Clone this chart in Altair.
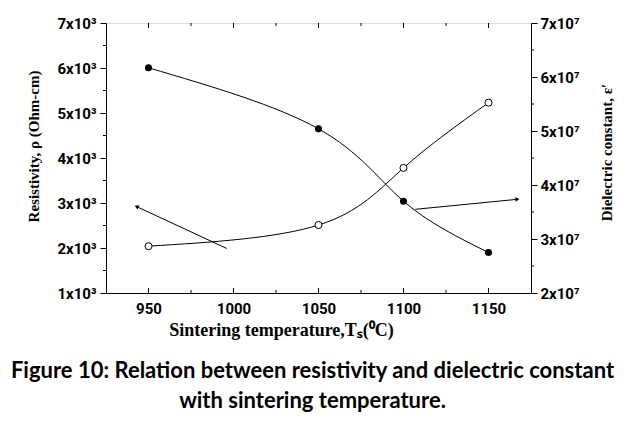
import altair as alt
import pandas as pd

# --- data ---
temps = [950, 1050, 1100, 1150]
resistivity = [2040, 2510, 3780, 5230]          # open circles, left axis
dielectric = [6.17e7, 5.04e7, 3.70e7, 2.75e7]   # filled circles, right axis

arrow_left_x = [996, 943]
arrow_left_y = [1990, 2920]
arrow_right_x = [1107, 1167]
arrow_right_y = [3.55e7, 3.735e7]

x_major = [950, 1000, 1050, 1100, 1150]
x_minor = [975, 1025, 1075, 1125]
left_major = [1000, 2000, 3000, 4000, 5000, 6000, 7000]
left_minor = [1500, 2500, 3500, 4500, 5500, 6500]
right_major = [2e7, 3e7, 4e7, 5e7, 6e7, 7e7]
right_minor = [2.5e7, 3.5e7, 4.5e7, 5.5e7, 6.5e7]

W, H = 425, 270

df = pd.DataFrame({"T": temps, "rho": resistivity, "eps": dielectric})
al = pd.DataFrame({"T": arrow_left_x, "rho": arrow_left_y, "o": [0, 1]})
ar = pd.DataFrame({"T": arrow_right_x, "eps": arrow_right_y, "o": [0, 1]})
alh = al.iloc[[1]]
arh = ar.iloc[[1]]

LBL = dict(labelFont="Roboto", labelFontWeight="bold", labelFontSize=15,
           labelColor="black", domainColor="black", grid=False,
           titleFont="Liberation Serif", titleFontWeight="bold", titleColor="black")

xscale = alt.Scale(domain=[925, 1175], nice=False, zero=False)
xaxis = alt.Axis(values=x_major, format="d", title="Sintering temperature,Tₛ(⁰C)",
                 tickSize=0, labelPadding=8, titlePadding=5, titleX=175,
                 titleFontSize=18, **LBL)

lscale = alt.Scale(domain=[1000, 7000], nice=False, zero=False)
rscale = alt.Scale(domain=[2e7, 7e7], nice=False, zero=False)

laxis = alt.Axis(orient="left", values=left_major, labelExpr="(datum.value/1000) + 'x10³'",
                 title="Resistivity, ρ (Ohm-cm)", tickSize=6, tickColor="black",
                 labelPadding=4, titleFontSize=15, titleAngle=270,
                 titleX=-73, titleY=123, titleAlign="center", titleBaseline="middle", **LBL)
raxis = alt.Axis(orient="right", values=right_major, labelExpr="(datum.value/1e7) + 'x10⁷'",
                 title="Dielectric constant, ε′", tickSize=6, tickColor="black",
                 labelPadding=3, titleFontSize=15, titleAngle=270,
                 titleX=75, titleY=129, titleAlign="center", titleBaseline="middle", **LBL)

X = lambda f: alt.X(f, scale=xscale, axis=xaxis)
YL = lambda f: alt.Y(f, scale=lscale, axis=laxis)
YR = lambda f: alt.Y(f, scale=rscale, axis=raxis)

base = alt.Chart(df)

# left (resistivity) group
l_line = base.mark_line(color="black", strokeWidth=1, interpolate="natural").encode(
    x=X("T:Q"), y=YL("rho:Q"))
l_pts = base.mark_point(shape="circle", filled=True, fill="white", stroke="black",
                        strokeWidth=1, size=50, opacity=1).encode(x=X("T:Q"), y=YL("rho:Q"))
l_arrow = alt.Chart(al).mark_line(color="black", strokeWidth=1).encode(
    x=X("T:Q"), y=YL("rho:Q"), order="o:Q")
l_head = alt.Chart(alh).mark_point(shape="triangle-up", filled=True, color="black",
                                   size=22, angle=295, opacity=1).encode(x=X("T:Q"), y=YL("rho:Q"))
l_minor = alt.Chart(pd.DataFrame({"v": left_minor})).mark_rule(color="black").encode(
    y=YL("v:Q"), x=alt.value(0), x2=alt.value(-3))
left = alt.layer(l_line, l_pts, l_arrow, l_head, l_minor)

# right (dielectric) group
r_line = base.mark_line(color="black", strokeWidth=1, interpolate="natural").encode(
    x=X("T:Q"), y=YR("eps:Q"))
r_pts = base.mark_point(shape="circle", filled=True, color="black", size=50,
                        opacity=1).encode(x=X("T:Q"), y=YR("eps:Q"))
r_arrow = alt.Chart(ar).mark_line(color="black", strokeWidth=1).encode(
    x=X("T:Q"), y=YR("eps:Q"), order="o:Q")
r_head = alt.Chart(arh).mark_point(shape="triangle-up", filled=True, color="black",
                                   size=22, angle=84, opacity=1).encode(x=X("T:Q"), y=YR("eps:Q"))
r_minor = alt.Chart(pd.DataFrame({"v": right_minor})).mark_rule(color="black").encode(
    y=YR("v:Q"), x=alt.value(W), x2=alt.value(W + 3))
right = alt.layer(r_line, r_pts, r_arrow, r_head, r_minor)

# inward x ticks (bottom and top)
xmaj = pd.DataFrame({"v": x_major})
xmin = pd.DataFrame({"v": x_minor})
xt1 = alt.Chart(xmaj).mark_rule(color="black").encode(
    x=X("v:Q"), y=alt.value(H), y2=alt.value(H - 5))
xt2 = alt.Chart(xmaj).mark_rule(color="black").encode(
    x=X("v:Q"), y=alt.value(0), y2=alt.value(5))
xt3 = alt.Chart(xmin).mark_rule(color="black").encode(
    x=X("v:Q"), y=alt.value(H), y2=alt.value(H - 3))
xt4 = alt.Chart(xmin).mark_rule(color="black").encode(
    x=X("v:Q"), y=alt.value(0), y2=alt.value(3))

chart = alt.layer(left, right, xt1, xt2, xt3, xt4).resolve_scale(y="independent").properties(
    width=W, height=H,
    autosize=alt.AutoSizeParams(type="none"),
    padding={"left": 98, "top": 15, "right": 86, "bottom": 123},
    title=alt.TitleParams(
        text=["Figure 10: Relation between resistivity and dielectric constant",
              "with sintering temperature."],
        orient="bottom", anchor="middle", font="Lato", fontSize=22, fontWeight="bold",
        lineHeight=30, offset=22, dx=-6, color="black"),
).configure_view(stroke="black", strokeWidth=1).configure(background="white")

chart.save("out.html", embed_options={"renderer": "svg", "actions": False})
